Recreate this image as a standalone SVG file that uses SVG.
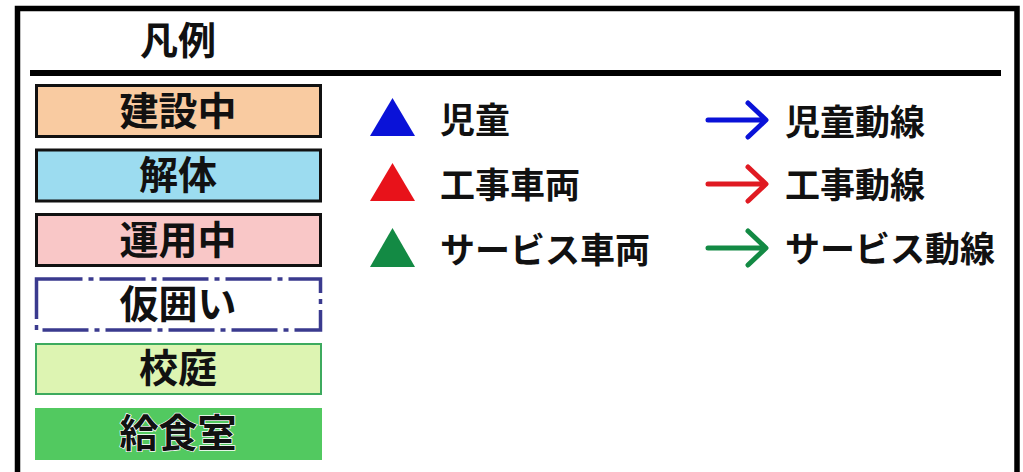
<svg xmlns="http://www.w3.org/2000/svg" width="1023" height="472" viewBox="0 0 1023 472">
<defs>
<style>
.lbl{font-family:"Noto Sans CJK JP","Noto Sans CJK SC",sans-serif;font-weight:bold;font-size:39px;fill:#111;text-anchor:middle}
.txt{font-family:"Noto Sans CJK JP","Noto Sans CJK SC",sans-serif;font-weight:bold;font-size:35px;fill:#111}
.box{stroke:#111;stroke-width:3}
.arr{fill:none;stroke-width:5;stroke-linecap:round;stroke-linejoin:round}
</style>
</defs>
<rect x="0" y="0" width="1023" height="472" fill="#fff"/>
<g id="frame">
<path d="M17.5 472 V8.5 H1017 V472" fill="none" stroke="#000" stroke-width="5.5"/>
<line x1="30" y1="73" x2="1001" y2="73" stroke="#000" stroke-width="6"/>
<text x="178" y="54" style="font-family:'Noto Sans CJK JP','Noto Sans CJK SC',sans-serif;font-weight:bold;font-size:38px;fill:#111" text-anchor="middle">凡例</text>
</g>
<g id="node-kensetsu"><rect class="box" x="36.5" y="85.5" width="284" height="51" fill="#F9CBA1"/><text class="lbl" x="178" y="125">建設中</text></g>
<g id="node-kaitai"><rect class="box" x="36.5" y="150" width="284" height="51" fill="#9CDCF0"/><text class="lbl" x="178" y="189">解体</text></g>
<g id="node-unyo"><rect class="box" x="36.5" y="214.5" width="284" height="51" fill="#F9C7C7"/><text class="lbl" x="178" y="254">運用中</text></g>
<g id="node-karigakoi"><rect x="36.5" y="279" width="284" height="51" fill="#fff" stroke="#3A3A8E" stroke-width="3.5" stroke-dasharray="46 6 5 6"/><text class="lbl" x="178" y="318">仮囲い</text></g>
<g id="node-kotei"><rect x="36" y="344" width="285" height="50" fill="#DDF4B2" stroke="#3DAA5E" stroke-width="2"/><text class="lbl" x="178" y="382">校庭</text></g>
<g id="node-kyushoku"><rect x="35" y="408" width="287" height="52" fill="#52C960"/><text class="lbl" x="178" y="447" stroke="#fff" stroke-width="1.5" paint-order="stroke">給食室</text></g>
<g id="node-jido"><polygon points="370,136 392.5,98 415,136" fill="#0A12D8"/><text class="txt" x="440" y="133">児童</text></g>
<g id="node-koji"><polygon points="370,201 392.5,163 415,201" fill="#E8121A"/><text class="txt" x="440" y="198">工事車両</text></g>
<g id="node-service"><polygon points="370,267 392.5,228 415,267" fill="#138A44"/><text class="txt" x="440" y="263">サービス車両</text></g>
<g id="connectors">
<path class="arr" stroke="#0A12D8" d="M708 120 H765 M748 103 L766 120 L748 137"/>
<path class="arr" stroke="#E01A22" d="M708 184 H765 M748 167 L766 184 L748 201"/>
<path class="arr" stroke="#138A44" d="M708 248 H765 M748 231 L766 248 L748 265"/>
</g>
<g id="labels-lines">
<text class="txt" x="785" y="135">児童動線</text>
<text class="txt" x="785" y="198">工事動線</text>
<text class="txt" x="785" y="262">サービス動線</text>
</g>
</svg>
